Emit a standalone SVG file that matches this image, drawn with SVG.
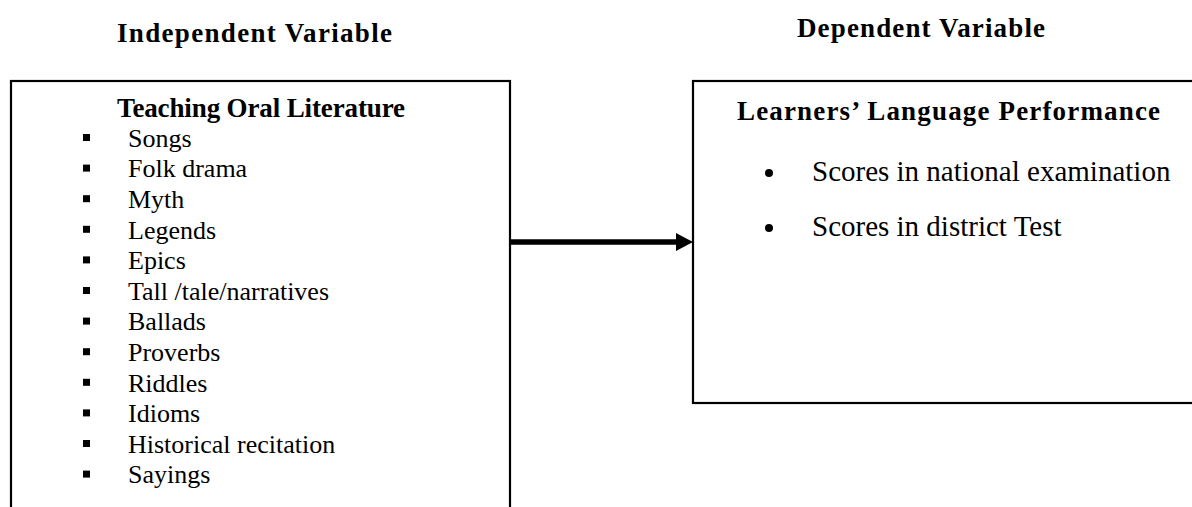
<svg xmlns="http://www.w3.org/2000/svg" width="1192" height="507" viewBox="0 0 1192 507">
<style>
text{font-family:"Liberation Serif","Times New Roman",serif;fill:#000}
.h{font-weight:bold;font-size:27px}
.li{font-size:26px}
.ri{font-size:29px}
.box{fill:#fff;stroke:#000;stroke-width:2.2}
</style>
<rect width="1192" height="507" fill="#fff"/>
<text class="h" x="117" y="42" textLength="275" lengthAdjust="spacing">Independent Variable</text>
<text class="h" x="797" y="37" textLength="248" lengthAdjust="spacing">Dependent Variable</text>
<g id="node-left">
<rect class="box" x="11" y="81" width="499" height="440"/>
<text class="h" x="117" y="117" textLength="288" lengthAdjust="spacing">Teaching Oral Literature</text>
<g fill="#000">
<rect x="83" y="134" width="7" height="7"/>
<rect x="83" y="164.6" width="7" height="7"/>
<rect x="83" y="195.2" width="7" height="7"/>
<rect x="83" y="225.8" width="7" height="7"/>
<rect x="83" y="256.4" width="7" height="7"/>
<rect x="83" y="287" width="7" height="7"/>
<rect x="83" y="317.6" width="7" height="7"/>
<rect x="83" y="348.2" width="7" height="7"/>
<rect x="83" y="378.8" width="7" height="7"/>
<rect x="83" y="409.4" width="7" height="7"/>
<rect x="83" y="440" width="7" height="7"/>
<rect x="83" y="470.6" width="7" height="7"/>
</g>
<text class="li" x="128" y="146.7">Songs</text>
<text class="li" x="128" y="177.3">Folk drama</text>
<text class="li" x="128" y="207.9">Myth</text>
<text class="li" x="128" y="238.5">Legends</text>
<text class="li" x="128" y="269.1">Epics</text>
<text class="li" x="128" y="299.7">Tall /tale/narratives</text>
<text class="li" x="128" y="330.3">Ballads</text>
<text class="li" x="128" y="360.9">Proverbs</text>
<text class="li" x="128" y="391.5">Riddles</text>
<text class="li" x="128" y="422.1">Idioms</text>
<text class="li" x="128" y="452.7">Historical recitation</text>
<text class="li" x="128" y="483.3">Sayings</text>
</g>
<g id="node-right">
<rect class="box" x="693" y="81" width="520" height="322"/>
<text class="h" x="737" y="120" textLength="423" lengthAdjust="spacing">Learners’ Language Performance</text>
<circle cx="769" cy="173" r="4" fill="#000"/>
<circle cx="769" cy="228" r="4" fill="#000"/>
<text class="ri" x="812" y="180.7">Scores in national examination</text>
<text class="ri" x="812" y="236">Scores in district Test</text>
</g>
<g id="connectors">
<line x1="511" y1="242" x2="678" y2="242" stroke="#000" stroke-width="5.5"/>
<polygon points="676,233 693,242 676,251" fill="#000"/>
</g>
</svg>
